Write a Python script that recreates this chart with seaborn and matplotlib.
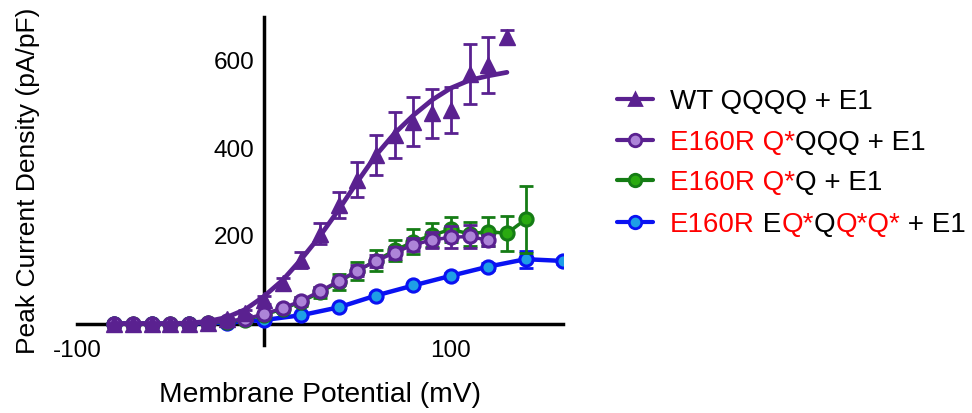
import matplotlib
matplotlib.use("Agg")
import matplotlib.pyplot as plt
import seaborn as sns
from matplotlib.lines import Line2D

# ---------------- data ----------------
wt_v = [-80, -70, -60, -50, -40, -30, -20, -10, 0, 10, 20, 30, 40, 50, 60, 70, 80, 90, 100, 110, 120, 130]
wt_i = [0, 0, 0, 0, 0, 2, 10, 25, 54, 92, 145, 205, 271, 328, 385, 431, 461, 481, 488, 570, 591, 655]
wt_sem = [0.5, 0.5, 0.5, 0.5, 0.5, 1, 3, 6, 10, 13, 18, 24, 29, 40, 46, 53, 56, 56, 52, 69, 64, 16]
wt_fit_i = [0, 0, 0, 0, 1, 5, 14, 32, 62, 99, 147, 200, 260, 324, 385, 435, 476, 511, 538, 556, 566, 574]

q1_v = [-80, -70, -60, -50, -40, -30, -20, -10, 0, 10, 20, 30, 40, 50, 60, 70, 80, 90, 100, 110, 120]
q1_i = [0, 0, 0, 0, 0, 1, 6, 10, 22, 35, 52, 74, 97, 121, 143, 162, 180, 191, 197, 199, 190]
q1_sem = [0.5, 0.5, 0.5, 0.5, 0.5, 0.5, 2, 3, 5, 6, 8, 9, 10, 12, 13, 14, 15, 19, 25, 26, 12]

q2_v = [-80, -70, -60, -50, -40, -30, -20, -10, 0, 10, 20, 30, 40, 50, 60, 70, 80, 90, 100, 110, 120, 130, 140]
q2_i = [0, 0, 0, 0, 0, 1, 4, 9, 20, 33, 50, 71, 95, 120, 144, 167, 187, 202, 215, 205, 210, 206, 238]
q2_sem = [1, 1, 1, 1, 1, 1, 2, 3, 5, 7, 10, 13, 18, 21, 23, 25, 28, 28, 29, 27, 33, 40, 76]

q3_v = [-80, -60, -40, -20, 0, 20, 40, 60, 80, 100, 120, 140, 160]
q3_i = [0, 0, 0, 2, 8, 19, 37, 64, 87, 109, 130, 147, 143]
q3_sem = [0.5, 0.5, 0.5, 1, 2, 3, 4, 5, 6, 7, 8, 19, 6]

x_ticks = [-100, 100]
y_ticks = [200, 400, 600]

legend_rows = [
    [("WT QQQQ + E1", "black")],
    [("E160R Q*", "red"), ("QQQ + E1", "black")],
    [("E160R Q*", "red"), ("Q + E1", "black")],
    [("E160R", "red"), (" E", "black"), ("Q*", "red"), ("Q", "black"),
     ("Q*Q*", "red"), (" + E1", "black")],
]

# ---------------- style ----------------
sns.set_style("white")
plt.rcParams["font.family"] = ["Liberation Sans", "DejaVu Sans"]
plt.rcParams["axes.unicode_minus"] = False
plt.rcParams["text.color"] = "black"
plt.rcParams["axes.labelcolor"] = "black"
plt.rcParams["xtick.color"] = "black"
plt.rcParams["ytick.color"] = "black"

DARK_PURPLE = "#5A2190"
LIGHT_PURPLE = "#AD84D8"
GREEN_LINE = "#157C15"
GREEN_FILL = "#2AAA10"
BLUE_LINE = "#0A12F2"
BLUE_FILL = "#1E9FE6"
RED = "#FF0000"

W, H = 972, 413
fig = plt.figure(figsize=(W / 100, H / 100), dpi=100)
ax = fig.add_axes([77 / W, 1 - 345.4 / H, 486 / W, 328.2 / H])

# blue series
ax.errorbar(q3_v, q3_i, yerr=q3_sem, fmt="none", ecolor=BLUE_LINE, elinewidth=2,
            capsize=5, capthick=2, zorder=2)
sns.lineplot(x=q3_v, y=q3_i, ax=ax, color=BLUE_LINE, linewidth=3.2, marker="o",
             markersize=9.5, markerfacecolor=BLUE_FILL, markeredgecolor=BLUE_LINE,
             markeredgewidth=2.2, errorbar=None, zorder=2.1)

# green series
ax.errorbar(q2_v, q2_i, yerr=q2_sem, fmt="none", ecolor=GREEN_LINE, elinewidth=2,
            capsize=5, capthick=2, zorder=3)
sns.lineplot(x=q2_v, y=q2_i, ax=ax, color=GREEN_LINE, linewidth=2.5, marker="o",
             markersize=9.5, markerfacecolor=GREEN_FILL, markeredgecolor=GREEN_LINE,
             markeredgewidth=2.2, errorbar=None, zorder=3.1)

# light purple series
ax.errorbar(q1_v, q1_i, yerr=q1_sem, fmt="none", ecolor=DARK_PURPLE, elinewidth=2,
            capsize=5, capthick=2, zorder=4)
sns.lineplot(x=q1_v, y=q1_i, ax=ax, color=DARK_PURPLE, linewidth=2.5, marker="o",
             markersize=9.5, markerfacecolor=LIGHT_PURPLE, markeredgecolor=DARK_PURPLE,
             markeredgewidth=2.2, errorbar=None, zorder=4.1)

# WT series: fit curve + triangles
sns.lineplot(x=wt_v, y=wt_fit_i, ax=ax, color=DARK_PURPLE, linewidth=3.4,
             errorbar=None, zorder=5)
ax.errorbar(wt_v, wt_i, yerr=wt_sem, fmt="none", ecolor=DARK_PURPLE, elinewidth=2,
            capsize=5, capthick=2, zorder=5.1)
sns.lineplot(x=wt_v, y=wt_i, ax=ax, color=DARK_PURPLE, linestyle="none", marker="^",
             markersize=11, markerfacecolor=DARK_PURPLE, markeredgecolor=DARK_PURPLE,
             markeredgewidth=1, errorbar=None, zorder=5.2)

# axes
ax.set_xlim(-100, 160)
ax.set_ylim(-50, 700)
for s in ("top", "right"):
    ax.spines[s].set_visible(False)
ax.spines["left"].set_position(("data", 0))
ax.spines["bottom"].set_position(("data", 0))
for s in ("left", "bottom"):
    ax.spines[s].set_linewidth(2.5)
    ax.spines[s].set_color("black")
    ax.spines[s].set_zorder(1.5)
ax.set_xticks(x_ticks)
ax.set_yticks(y_ticks)
ax.tick_params(axis="both", direction="out", length=6, width=2.5, colors="black",
               labelsize=17.5)
ax.tick_params(axis="x", pad=6)
ax.tick_params(axis="y", pad=1)
ax.set_xlabel("Membrane Potential (mV)", fontsize=20.3, color="black")
ax.set_ylabel("Peak Current Density (pA/pF)", fontsize=19, color="black")
ax.xaxis.set_label_coords(0.5, -0.112)
ax.yaxis.set_label_coords(-0.076, 0.5)
ax.grid(False)

# custom legend
handles = [
    dict(color=DARK_PURPLE, marker="^", mfc=DARK_PURPLE, mec=DARK_PURPLE),
    dict(color=DARK_PURPLE, marker="o", mfc=LIGHT_PURPLE, mec=DARK_PURPLE),
    dict(color=GREEN_LINE, marker="o", mfc=GREEN_FILL, mec=GREEN_LINE),
    dict(color=BLUE_LINE, marker="o", mfc=BLUE_FILL, mec=BLUE_LINE),
]
baselines = [109, 150, 190, 232]
for row, hd, base in zip(legend_rows, handles, baselines):
    ly = 1 - (base - 10) / H
    fig.add_artist(Line2D([617 / W, 653 / W], [ly, ly], transform=fig.transFigure,
                          color=hd["color"], linewidth=3))
    fig.add_artist(Line2D([635 / W], [ly], transform=fig.transFigure, linestyle="none",
                          marker=hd["marker"], markersize=9, markerfacecolor=hd["mfc"],
                          markeredgecolor=hd["mec"], markeredgewidth=2))
    prev = None
    for txt, col in row:
        c = RED if col == "red" else "black"
        if prev is None:
            prev = ax.annotate(txt, xy=(670 / W, 1 - base / H), xycoords="figure fraction",
                               ha="left", va="baseline", fontsize=20, color=c,
                               annotation_clip=False)
        else:
            prev = ax.annotate(txt, xy=(1, 1 - base / H), xycoords=(prev, "figure fraction"),
                               ha="left", va="baseline", fontsize=20, color=c,
                               annotation_clip=False)

fig.savefig("out.png", dpi=100)
